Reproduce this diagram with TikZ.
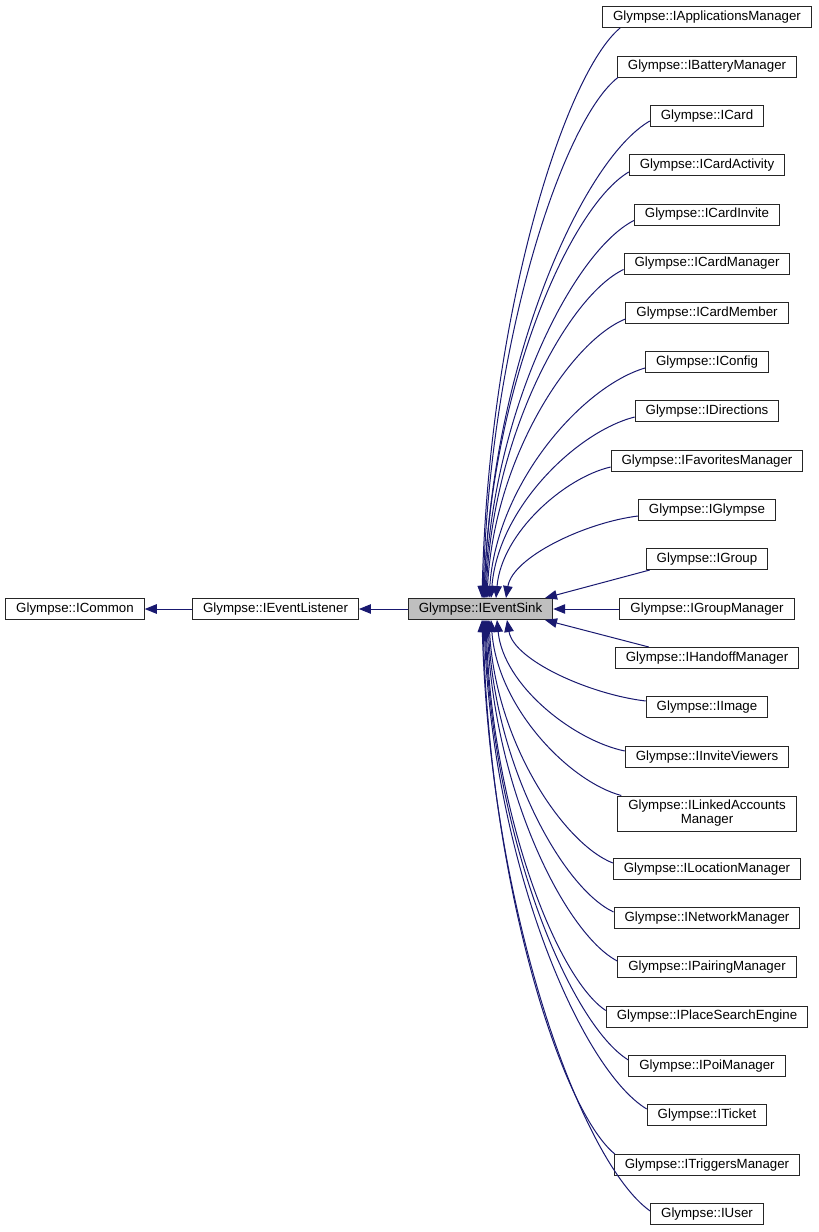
\documentclass[tikz,border=0pt]{standalone}
\usepackage{fontspec}
\setmainfont{Liberation Sans}
\usetikzlibrary{arrows.meta,calc}
\definecolor{edgeblue}{HTML}{191970}
\definecolor{sinkfill}{HTML}{BFBFBF}
\tikzset{
  box/.style={draw=black!85, line width=1pt, fill=white,
    font=\fontsize{13.3}{14}\selectfont, inner xsep=10.5pt, inner ysep=0pt,
    minimum height=21pt, align=center},
  edge/.style={draw=edgeblue, line width=1pt, -{Triangle[length=12pt,width=9.5pt]}}
}
% curved connector: #1 start, #2 end
\newcommand\chedge[2]{%
  \draw[edge] let \p1=(#1), \p2=(#2) in (\p1)
    .. controls ({\x1-0.4*(\x1-\x2)},{\y1-0.08*(\y1-\y2)})
       and ({\x2+0.05*(\x1-\x2)},{\y2+0.5*(\y1-\y2)}) .. (\p2);}
\begin{document}
\begin{tikzpicture}[x=1pt,y=1pt]
\useasboundingbox (0,0) rectangle (819,-1232);
% left chain
\node[box] (common) at (75,-609) {Glympse::ICommon};
\node[box] (listener) at (275.5,-609) {Glympse::IEventListener};
\node[box, fill=sinkfill] (sink) at (480.5,-609) {Glympse::IEventSink};
% children
\node[box] (c1) at (707,-17) {Glympse::IApplicationsManager};
\node[box] (c2) at (707,-66.5) {Glympse::IBatteryManager};
\node[box] (c3) at (707,-116) {Glympse::ICard};
\node[box] (c4) at (707,-165) {Glympse::ICardActivity};
\node[box] (c5) at (707,-214.5) {Glympse::ICardInvite};
\node[box] (c6) at (707,-263.5) {Glympse::ICardManager};
\node[box] (c7) at (707,-313) {Glympse::ICardMember};
\node[box] (c8) at (707,-362) {Glympse::IConfig};
\node[box] (c9) at (707,-411) {Glympse::IDirections};
\node[box] (c10) at (707,-461) {Glympse::IFavoritesManager};
\node[box] (c11) at (707,-510) {Glympse::IGlympse};
\node[box] (c12) at (707,-559) {Glympse::IGroup};
\node[box] (c13) at (707,-609) {Glympse::IGroupManager};
\node[box] (c14) at (707,-658) {Glympse::IHandoffManager};
\node[box] (c15) at (707,-707) {Glympse::IImage};
\node[box] (c16) at (707,-757) {Glympse::IInviteViewers};
\node[box, minimum height=35pt] (c17) at (707,-813.5) {Glympse::ILinkedAccounts\\Manager};
\node[box] (c18) at (707,-869) {Glympse::ILocationManager};
\node[box] (c19) at (707,-918) {Glympse::INetworkManager};
\node[box] (c20) at (707,-967) {Glympse::IPairingManager};
\node[box] (c21) at (707,-1016.5) {Glympse::IPlaceSearchEngine};
\node[box] (c22) at (707,-1066) {Glympse::IPoiManager};
\node[box] (c23) at (707,-1115) {Glympse::ITicket};
\node[box] (c24) at (707,-1165) {Glympse::ITriggersManager};
\node[box] (c25) at (707,-1214) {Glympse::IUser};
% chain edges
\draw[edge] (listener.west) -- (common.east);
\draw[edge] (sink.west) -- (listener.east);
% upper edges
\chedge{[xshift=18pt]c1.south west}{[xshift=1.5pt]sink.north}
\chedge{[xshift=1pt]c2.south west}{[xshift=2.5pt]sink.north}
\chedge{[yshift=-5pt]c3.west}{[xshift=3.5pt]sink.north}
\chedge{[yshift=-7pt]c4.west}{[xshift=3.5pt]sink.north}
\chedge{[yshift=-6pt]c5.west}{[xshift=4.5pt]sink.north}
\chedge{[yshift=-6pt]c6.west}{[xshift=5.5pt]sink.north}
\chedge{[yshift=-6pt]c7.west}{[xshift=6.5pt]sink.north}
\chedge{[yshift=-6pt]c8.west}{[xshift=8.5pt]sink.north}
\chedge{[yshift=-6pt]c9.west}{[xshift=10.5pt]sink.north}
\chedge{[yshift=-6pt]c10.west}{[xshift=15.5pt]sink.north}
\chedge{[yshift=-6pt]c11.west}{[xshift=25.5pt]sink.north}
\draw[edge] ([xshift=4pt]c12.south west) -- ([xshift=64.5pt]sink.north);
\draw[edge] (c13.west) -- (sink.east);
\draw[edge] ([xshift=34pt]c14.north west) -- ([xshift=64.5pt]sink.south);
% lower edges
\chedge{[yshift=6pt]c15.west}{[xshift=26.5pt]sink.south}
\chedge{[yshift=6pt]c16.west}{[xshift=16.5pt]sink.south}
\chedge{[xshift=4pt]c17.north west}{[xshift=10.5pt]sink.south}
\chedge{[yshift=6pt]c18.west}{[xshift=8.5pt]sink.south}
\chedge{[yshift=6pt]c19.west}{[xshift=7.5pt]sink.south}
\chedge{[yshift=6pt]c20.west}{[xshift=6.5pt]sink.south}
\chedge{[yshift=6pt]c21.west}{[xshift=5.5pt]sink.south}
\chedge{[yshift=6pt]c22.west}{[xshift=4.5pt]sink.south}
\chedge{[yshift=6pt]c23.west}{[xshift=3.5pt]sink.south}
\chedge{[xshift=1pt]c24.north west}{[xshift=2.5pt]sink.south}
\chedge{[yshift=3pt]c25.west}{[xshift=1.5pt]sink.south}
\end{tikzpicture}
\end{document}
